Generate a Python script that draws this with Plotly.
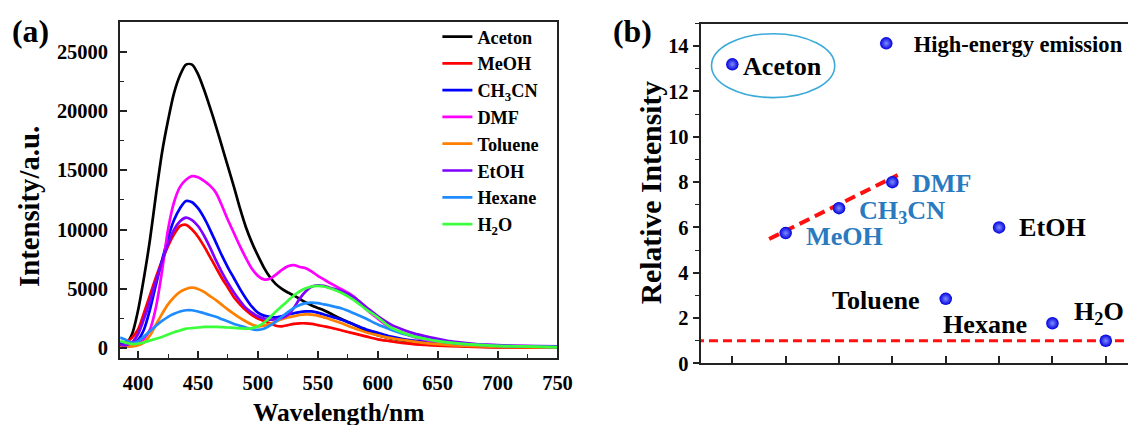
import plotly.graph_objects as go

# ---------------- Panel (a) data ----------------
wavelength = [385, 390, 395, 400, 405, 410, 415, 420, 425, 430, 435, 440, 445, 450, 455,
              460, 465, 470, 475, 480, 485, 490, 495, 500, 505, 510, 515, 520, 525, 530,
              535, 540, 545, 550, 555, 560, 570, 580, 590, 600, 610, 620, 630, 640, 650,
              660, 680, 700, 720, 750]

aceton = [300, 400, 1200, 3200, 6000, 9200, 13000, 16500, 19200, 21500, 23000, 23900, 23900, 23100, 21800,
          20300, 18700, 17000, 15300, 13600, 11800, 10200, 8900, 7800, 6800, 6000, 5400, 5000, 4700, 4450,
          4150, 3850, 3600, 3400, 3200, 2950, 2450, 2000, 1500, 1100, 850, 650, 500, 400, 300,
          250, 150, 100, 80, 50]
meoh = [300, 500, 900, 1600, 3000, 4500, 6000, 7400, 8600, 9600, 10300, 10400, 10000, 9400, 8600,
        7700, 6800, 5900, 5100, 4300, 3700, 3200, 2800, 2500, 2300, 2100, 1900, 1850, 1950, 2050,
        2100, 2100, 2050, 1950, 1850, 1750, 1500, 1250, 1000, 750, 600, 450, 350, 280, 220,
        180, 120, 80, 60, 50]
ch3cn = [500, 350, 400, 700, 1600, 3300, 5400, 7400, 9300, 10800, 11800, 12400, 12300, 11800, 11000,
         10000, 8900, 7800, 6800, 5900, 5000, 4200, 3500, 3000, 2750, 2650, 2600, 2700, 2850, 2950,
         3050, 3100, 3100, 3000, 2850, 2700, 2400, 2000, 1600, 1300, 1000, 800, 650, 550, 450,
         350, 250, 200, 150, 150]
dmf = [200, 150, 200, 400, 800, 1600, 3500, 6500, 10000, 12300, 13600, 14200, 14500, 14400, 14100,
       13700, 13100, 12000, 10800, 9700, 8600, 7600, 6700, 6100, 5800, 5850, 6200, 6600, 6900, 7000,
       6850, 6750, 6450, 6100, 5800, 5500, 4950, 4350, 3300, 2500, 1750, 1300, 950, 700, 550,
       450, 330, 250, 180, 120]
toluene = [200, 150, 150, 250, 500, 1100, 2000, 2900, 3700, 4300, 4750, 5000, 5100, 5000, 4750,
           4400, 4050, 3650, 3250, 2900, 2550, 2250, 2000, 1850, 1900, 2050, 2250, 2450, 2600, 2700,
           2800, 2850, 2830, 2750, 2600, 2450, 2100, 1700, 1350, 1100, 870, 700, 560, 430, 340,
           270, 180, 120, 90, 60]
etoh = [300, 250, 500, 1200, 2500, 4000, 5700, 7300, 8800, 10000, 10700, 11000, 10800, 10300, 9500,
        8500, 7400, 6400, 5500, 4700, 4000, 3400, 3000, 2700, 2500, 2400, 2450, 2550, 2800, 3400,
        4200, 4800, 5200, 5300, 5250, 5100, 4800, 4300, 3500, 2700, 2050, 1600, 1250, 1000, 800,
        600, 380, 260, 200, 150]
hexane = [900, 700, 450, 600, 1000, 1450, 1900, 2300, 2650, 2900, 3100, 3200, 3200, 3100, 2950,
          2800, 2650, 2450, 2250, 2050, 1900, 1750, 1600, 1550, 1650, 1900, 2250, 2650, 3050, 3400,
          3650, 3800, 3850, 3800, 3700, 3600, 3350, 2950, 2500, 2000, 1600, 1250, 1000, 780, 620,
          480, 300, 200, 150, 100]
h2o = [600, 450, 350, 400, 500, 650, 800, 950, 1150, 1350, 1500, 1650, 1700, 1750, 1800,
       1800, 1800, 1780, 1750, 1720, 1680, 1650, 1700, 1850, 2150, 2600, 3100, 3550, 4000, 4450,
       4800, 5050, 5200, 5250, 5200, 5050, 4650, 4050, 3300, 2600, 1800, 1350, 1000, 780, 600,
       480, 300, 200, 150, 100]

series_names = ["Aceton", "MeOH", "CH<sub>3</sub>CN", "DMF", "Toluene", "EtOH", "Hexane", "H<sub>2</sub>O"]
series_values = [aceton, meoh, ch3cn, dmf, toluene, etoh, hexane, h2o]
series_colors = ["#000000", "#ff0000", "#0000ff", "#ff00ff", "#ff8000", "#8000ff", "#1e8cff", "#3cff3c"]

# ---------------- Panel (b) data ----------------
solvents_b = ["Aceton", "MeOH", "CH<sub>3</sub>CN", "DMF", "Toluene", "EtOH", "Hexane", "H<sub>2</sub>O"]
solvent_pos = [1, 2, 3, 4, 5, 6, 7, 8]
relative_intensity = [13.2, 5.75, 6.85, 8.0, 2.85, 6.0, 1.77, 1.0]
fit_x = [1.69, 4.10]
fit_y = [5.49, 8.31]
ref_x = [0.3, 8.6]
ref_y = [1.0, 1.0]

FONT = "Liberation Serif"
REF_W, REF_H = 1128, 425
W, H = 1144, 440            # rendered page is shrunk to 1128x425 when photographed
KX, KY = W / REF_W, H / REF_H
K = (KX + KY) / 2


def px_x(p):
    return p / REF_W


def px_y(p):
    return 1 - p / REF_H


fig = go.Figure()

for name, vals, col in zip(series_names, series_values, series_colors):
    fig.add_trace(go.Scatter(
        x=wavelength, y=vals, name=name, mode="lines",
        line=dict(color=col, width=2.7, shape="spline", smoothing=0.8),
        xaxis="x", yaxis="y", legend="legend",
    ))

fig.add_trace(go.Scatter(
    x=ref_x, y=ref_y, mode="lines", showlegend=False,
    line=dict(color="#ff1010", width=3.2, dash="9px,5px"),
    xaxis="x2", yaxis="y2",
))
fig.add_trace(go.Scatter(
    x=fit_x, y=fit_y, mode="lines", showlegend=False,
    line=dict(color="#ff1010", width=4, dash="11px,6px"),
    xaxis="x2", yaxis="y2",
))
fig.add_trace(go.Scatter(
    x=solvent_pos, y=relative_intensity, mode="markers", name="High-energy emission",
    marker=dict(size=12.5, color="#0000dd", line=dict(width=0),
                gradient=dict(type="radial", color="#7f8cff")),
    xaxis="x2", yaxis="y2", legend="legend2",
))

# labels in panel (b)
label_colors = ["#000000", "#2a7ac0", "#2a7ac0", "#2a7ac0", "#000000", "#000000", "#000000", "#000000"]
label_anchor = ["left", "left", "left", "left", "right", "left", "right", "center"]
label_dx = [9, 18, 18, 17, -23, 18, -23, -7]
label_dy = [-2, -3, -4, -1, -2, 0, -1, 27]
annotations = []
for txt, xv, yv, col, anc, dx, dy in zip(solvents_b, solvent_pos, relative_intensity,
                                         label_colors, label_anchor, label_dx, label_dy):
    annotations.append(dict(
        x=xv, y=yv, xref="x2", yref="y2", text=txt, showarrow=False,
        xanchor=anc, yanchor="middle", xshift=dx * KX, yshift=dy * KY,
        font=dict(family=FONT, size=25.5 * K, color=col, weight="bold"),
    ))

# panel letters and axis titles
annotations += [
    dict(x=px_x(30), y=px_y(31), xref="paper", yref="paper", text="(a)", showarrow=False,
         xanchor="center", yanchor="middle", font=dict(family=FONT, size=31 * K, color="#000", weight="bold")),
    dict(x=px_x(632), y=px_y(31), xref="paper", yref="paper", text="(b)", showarrow=False,
         xanchor="center", yanchor="middle", font=dict(family=FONT, size=31 * K, color="#000", weight="bold")),
    dict(x=px_x(29), y=px_y(205), xref="paper", yref="paper", text="Intensity/a.u.", showarrow=False,
         textangle=-90, xanchor="center", yanchor="middle",
         font=dict(family=FONT, size=28 * K, color="#000", weight="bold")),
    dict(x=px_x(338), y=px_y(424.5), xref="paper", yref="paper", text="Wavelength/nm", showarrow=False,
         xanchor="center", yanchor="bottom", borderpad=0,
         font=dict(family=FONT, size=25.5, color="#000", weight="bold")),
    dict(x=px_x(650), y=px_y(191), xref="paper", yref="paper", text="Relative Intensity", showarrow=False,
         textangle=-90, xanchor="center", yanchor="middle",
         font=dict(family=FONT, size=29 * K, color="#000", weight="bold")),
]

tickfont = dict(family=FONT, size=20 * K, color="#000", weight="bold")
axcol = "#222222"

fig.update_layout(
    width=W, height=H, autosize=False,
    margin=dict(l=0, r=0, t=0, b=0),
    paper_bgcolor="white", plot_bgcolor="white",
    font=dict(family=FONT, color="#000"),
    annotations=annotations,
)

fig.update_layout(
    xaxis=dict(
        domain=[px_x(120), px_x(557)], range=[385, 750], anchor="y",
        tick0=400, dtick=50, ticks="inside", ticklen=7, tickwidth=1.6, tickcolor=axcol,
        minor=dict(dtick=25, tick0=400, ticks="inside", ticklen=4, tickwidth=1.4, tickcolor=axcol),
        showline=True, linewidth=1.8, linecolor=axcol, mirror=True,
        showgrid=False, zeroline=False, tickfont=tickfont, ticklabelstandoff=5,
    ),
    yaxis=dict(
        domain=[px_y(355), px_y(22)], range=[-850, 27470], anchor="x",
        tick0=0, dtick=5000, tickformat="d", ticks="inside", ticklen=7, tickwidth=1.6, tickcolor=axcol,
        minor=dict(dtick=2500, tick0=0, ticks="inside", ticklen=4, tickwidth=1.4, tickcolor=axcol),
        showline=True, linewidth=1.8, linecolor=axcol, mirror=True,
        showgrid=False, zeroline=False, tickfont=tickfont, ticklabelstandoff=6,
    ),
    xaxis2=dict(
        domain=[px_x(700), 1.0], range=[0.406, 8.435], anchor="y2",
        tickvals=solvent_pos, showticklabels=False,
        ticks="inside", ticklen=7, tickwidth=1.6, tickcolor=axcol,
        showline=True, linewidth=1.8, linecolor=axcol, mirror=True,
        showgrid=False, zeroline=False,
    ),
    yaxis2=dict(
        domain=[px_y(360), px_y(23.3)], range=[0, 15], anchor="x2",
        tick0=0, dtick=2, ticks="outside", ticklen=6, tickwidth=1.6, tickcolor=axcol,
        minor=dict(dtick=1, tick0=0, ticks="outside", ticklen=4, tickwidth=1.4, tickcolor=axcol),
        showline=True, linewidth=1.8, linecolor=axcol, mirror=False,
        showgrid=False, zeroline=False, tickfont=tickfont,
    ),
    legend=dict(
        x=px_x(437), y=px_y(18), xanchor="left", yanchor="top",
        bgcolor="rgba(0,0,0,0)", borderwidth=0,
        font=dict(family=FONT, size=18.3, color="#000", weight="bold"),
        itemwidth=30, tracegroupgap=0,
    ),
    legend2=dict(
        x=px_x(858), y=px_y(22), xanchor="left", yanchor="top",
        bgcolor="rgba(0,0,0,0)", borderwidth=0,
        font=dict(family=FONT, size=22 * K, color="#000", weight="bold"),
        itemwidth=45,
    ),
    shapes=[dict(
        type="circle", xref="x2", yref="y2", x0=0.61, x1=2.92, y0=11.73, y1=14.55,
        line=dict(color="#3aaad8", width=1.6), fillcolor="rgba(0,0,0,0)",
    )],
)

fig.write_html("out.html")
